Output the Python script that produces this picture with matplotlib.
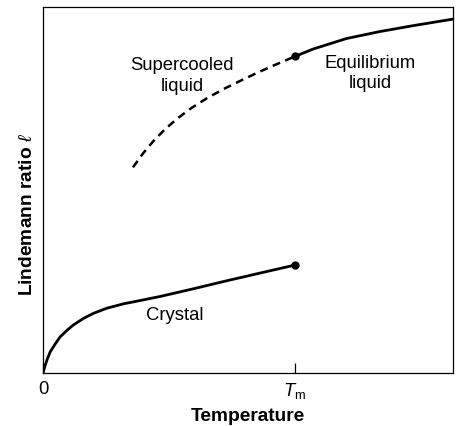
#!/usr/bin/env python3
"""Lindemann ratio vs temperature: crystal, supercooled and equilibrium liquid."""

import matplotlib

matplotlib.use("Agg")
import matplotlib.pyplot as plt

plt.rcParams["font.family"] = ["Liberation Sans", "DejaVu Sans"]
plt.rcParams["mathtext.fontset"] = "custom"
plt.rcParams["mathtext.rm"] = "Liberation Sans"
plt.rcParams["mathtext.it"] = "Liberation Sans:italic"
plt.rcParams["mathtext.bf"] = "Liberation Sans:bold"

# Temperature in units of T_m, Lindemann ratio in arbitrary units
crystal_t = [0.0, 0.008, 0.017, 0.028, 0.048, 0.067, 0.094, 0.120, 0.160,
             0.200, 0.253, 0.319, 0.385, 0.464, 0.596, 0.729, 0.861, 1.0]
crystal_l = [0.0, 0.020, 0.038, 0.057, 0.079, 0.098, 0.116, 0.131, 0.149,
             0.163, 0.177, 0.189, 0.198, 0.209, 0.230, 0.252, 0.273, 0.295]

liquid_t = [1.0, 1.071, 1.205, 1.337, 1.468, 1.627]
liquid_l = [0.865, 0.885, 0.914, 0.933, 0.949, 0.967]

supercooled_t = [0.357, 0.397, 0.437, 0.484, 0.536, 0.591, 0.651, 0.714,
                 0.782, 0.849, 0.921, 1.0]
supercooled_l = [0.562, 0.600, 0.633, 0.666, 0.697, 0.725, 0.751, 0.775,
                 0.798, 0.820, 0.842, 0.865]

tick_positions = [0.0, 1.0]
tick_labels = ["0", r"$T_\mathrm{m}$"]

fig = plt.figure(figsize=(4.68, 4.27), dpi=100)
ax = fig.add_axes([0.0919, 0.1241, 0.876, 0.8571])

ax.plot(crystal_t, crystal_l, color="black", lw=2.0, solid_capstyle="butt",
        solid_joinstyle="round")
ax.plot(liquid_t, liquid_l, color="black", lw=2.0, solid_capstyle="butt",
        solid_joinstyle="round")
ax.plot(supercooled_t, supercooled_l, color="black", lw=1.8,
        linestyle=(0, (3.2, 2.2)), dash_capstyle="butt")

# melting-point end markers
ax.plot([crystal_t[-1], liquid_t[0]], [crystal_l[-1], liquid_l[0]], "o",
        color="black", ms=5)

ax.text(0.552, 0.814, "Supercooled\nliquid", ha="center", va="center",
        fontsize=13.3, linespacing=1.25)
ax.text(1.298, 0.822, "Equilibrium\nliquid", ha="center", va="center",
        fontsize=13.3, linespacing=1.25)
ax.text(0.524, 0.161, "Crystal", ha="center", va="center", fontsize=13.3)

ax.set_xlim(0, 1.627)
ax.set_ylim(0, 1)
ax.set_xticks(tick_positions)
ax.set_xticklabels(tick_labels, fontsize=13.3)
ax.set_yticks([])
ax.tick_params(axis="x", direction="in", length=7, width=0.9, pad=5)

for spine in ax.spines.values():
    spine.set_linewidth(0.9)

ax.set_xlabel("Temperature", fontsize=13.8, fontweight="bold")
ax.xaxis.set_label_coords(0.499, -0.117)
ax.xaxis.label.set_va("center")
ax.set_ylabel(r"Lindemann ratio $\ell$", fontsize=13.8, fontweight="bold")
ax.yaxis.set_label_coords(-0.037, 0.437)
ax.yaxis.label.set_va("center")

fig.savefig("out.png", dpi=100)
plt.close(fig)
